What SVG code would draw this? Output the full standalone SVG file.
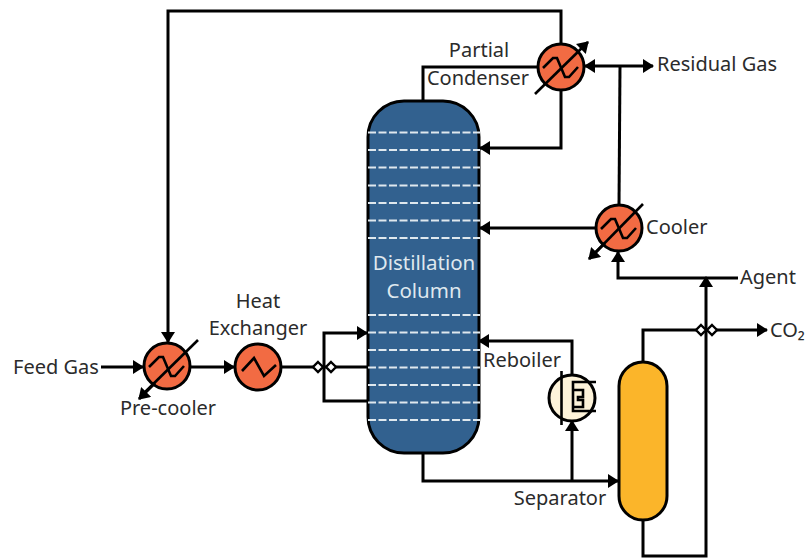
<svg xmlns="http://www.w3.org/2000/svg" width="805" height="558" viewBox="0 0 805 558">
<style>
text{font-family:"Noto Sans","Open Sans","Liberation Sans",sans-serif;font-size:20px;fill:#2b2b2b}
.l{fill:none;stroke:#000;stroke-width:3}
.t{fill:none;stroke:#000;stroke-width:2.6}
.h{fill:#f26b43;stroke:#000;stroke-width:3}
.tray{stroke:#dfe8ee;stroke-width:2;stroke-dasharray:8 2.500}
.v{fill:#fff;stroke:#000;stroke-width:2.400}
</style>
<defs>
<marker id="a" markerUnits="userSpaceOnUse" markerWidth="12" markerHeight="14" refX="10" refY="7" orient="auto"><path d="M0 0L11 7L0 14Z" fill="#000"/></marker>
</defs>
<rect width="805" height="558" fill="#fff"/>
<g id="connectors">
<path class="l" d="M561 45V11H168V342" marker-end="url(#a)"/>
<path class="l" d="M423 101V67H538"/>
<path class="l" marker-end="url(#a)" d="M561 90V148H480"/>
<path class="l" marker-end="url(#a)" d="M620 66H585"/>
<path class="l" marker-end="url(#a)" d="M620 66H653"/>
<path class="l" d="M619 205L620 66"/>
<path class="l" marker-end="url(#a)" d="M596 228H480"/>
<path class="l" marker-end="url(#a)" d="M738 278H618V252"/>
<path class="l" marker-end="url(#a)" d="M643 362V330H767"/>
<path class="l" marker-end="url(#a)" d="M643 521V556H706V277"/>
<path class="l" marker-end="url(#a)" d="M101 367H143"/>
<path class="l" marker-end="url(#a)" d="M190 367H234"/>
<path class="l" d="M282 367H368"/>
<path class="l" marker-end="url(#a)" d="M368 401H324V333H367"/>
<path class="l" marker-end="url(#a)" d="M572 374V341H479"/>
<path class="l" marker-end="url(#a)" d="M423 454V481H618"/>
<path class="l" marker-end="url(#a)" d="M572 481V421"/>
<path class="v" d="M318 362L323 367L318 372L313 367Z"/>
<path class="v" d="M331 362L336 367L331 372L326 367Z"/>
<path class="v" d="M701 325L706 330L701 335L696 330Z"/>
<path class="v" d="M712 325L717 330L712 335L707 330Z"/>
</g>
<g id="column">
<rect x="368" y="101" width="111" height="352" rx="36" ry="36" fill="#32618f" stroke="#000" stroke-width="3"/>
<path class="tray" d="M368 132.500H480M368 150H480M368 167.500H480M368 185.500H480M368 203H480M368 220.500H480M368 238H480M368 315H480M368 332.500H480M368 350H480M368 367.500H480M368 385H480M368 402.500H480M368 420H480"/>
<text x="424" y="270" text-anchor="middle" style="fill:#dfe8ee;font-size:20.5px">Distillation</text>
<text x="424" y="298" text-anchor="middle" style="fill:#dfe8ee;font-size:20.5px">Column</text>
</g>
<g id="partial-condenser">
<circle class="h" cx="561" cy="67" r="23"/>
<path class="t" d="M543 68L553 58H557L565 77H569L578 67"/>
<path class="t" marker-end="url(#a)" d="M535 94L588 42"/>
<text x="479" y="57" text-anchor="middle">Partial</text>
<text x="478" y="85" text-anchor="middle">Condenser</text>
</g>
<g id="cooler">
<circle class="h" cx="619" cy="228" r="23"/>
<path class="t" d="M601 229L611 219H615L623 238H627L636 228"/>
<path class="t" d="M643 204L590 258"/>
<path class="l" marker-end="url(#a)" d="M605 243L589 259"/>
<text x="646" y="234">Cooler</text>
</g>
<g id="pre-cooler">
<circle class="h" cx="167" cy="366" r="23"/>
<path class="t" d="M149 367L159 357H163L171 376H175L184 366"/>
<path class="t" d="M198 340L140 397"/>
<path class="l" marker-end="url(#a)" d="M155 383L139 399"/>
<text x="168" y="415" text-anchor="middle">Pre-cooler</text>
</g>
<g id="heat-exchanger">
<circle class="h" cx="258" cy="367" r="23"/>
<path class="t" d="M242 371L254 358L264 376L276 365"/>
<text x="258" y="308" text-anchor="middle">Heat</text>
<text x="258" y="335" text-anchor="middle">Exchanger</text>
</g>
<g id="reboiler">
<circle cx="572" cy="398" r="23" fill="#fdf3da" stroke="#000" stroke-width="3"/>
<path class="t" d="M561.500 371V425"/>
<path class="t" d="M596 382H573V411H596M573 390H583V397H578V400H583V407H573"/>
<text x="522" y="367" text-anchor="middle">Reboiler</text>
</g>
<g id="separator">
<rect x="619" y="362" width="48" height="158" rx="24" ry="24" fill="#fbb52a" stroke="#000" stroke-width="3"/>
<text x="560" y="505" text-anchor="middle">Separator</text>
</g>
<g id="labels">
<text x="13" y="374">Feed Gas</text>
<text x="657" y="71">Residual Gas</text>
<text x="740" y="284">Agent</text>
<text x="770" y="337">CO₂</text>
</g>
</svg>
